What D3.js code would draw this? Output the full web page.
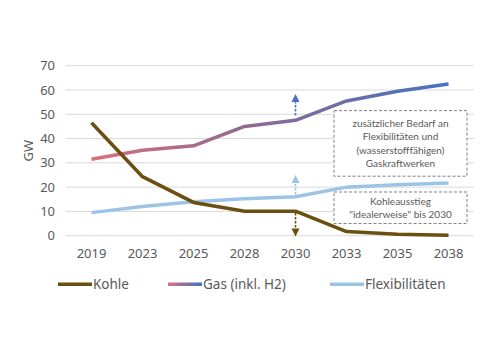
<!DOCTYPE html>
<html>
<head>
<meta charset="utf-8">
<script src="https://cdn.jsdelivr.net/npm/d3@7"></script>
<style>
  body { margin: 0; background: #fff; }
  svg { display: block; font-family: "Noto Sans", sans-serif; }
</style>
</head>
<body>
<svg width="500" height="353"></svg>
<script>
const years = ["2019", "2023", "2025", "2028", "2030", "2033", "2035", "2038"];
const kohle = [46.5, 24.3, 13.7, 10.1, 10.1, 1.7, 0.6, 0.2];
const gas = [31.5, 35.2, 37, 45, 47.5, 55.5, 59.5, 62.5];
const flex = [9.5, 12, 14, 15.2, 16, 20, 21, 21.7];
const yTicks = [0, 10, 20, 30, 40, 50, 60, 70];

// dashed arrows at 2030: [from, to]
const arrowYear = "2030";
const arrows = [
    { from: 49.5, to: 58.3, color: "#4472c4" },
    { from: 17, to: 25, color: "#9dc3e6" },
    { from: 9.3, to: -0.3, color: "#6b4f10" }
];

const notes = [
    { lines: ["zusätzlicher Bedarf an", "Flexibilitäten und", "(wasserstofffähigen)", "Gaskraftwerken"], top: 51.5, bottom: 24.5 },
    { lines: ["Kohleausstieg", "\"idealerweise\" bis 2030"], top: 18, bottom: 5 }
];

const svg = d3.select("svg");
const area = { left: 66, right: 474, top: 65.7, bottom: 235.7 };

const scX = d3.scaleBand().domain(years).range([area.left, area.right]);
const scY = d3.scaleLinear().domain([0, 70]).range([area.bottom, area.top]);
const cx = d => scX(d) + scX.bandwidth() / 2;

const defs = svg.append("defs");
const grad = defs.append("linearGradient")
    .attr("id", "gasGrad")
    .attr("gradientUnits", "userSpaceOnUse")
    .attr("x1", cx(years[0])).attr("x2", cx(years[years.length - 1]))
    .attr("y1", 0).attr("y2", 0);
grad.append("stop").attr("offset", "0%").attr("stop-color", "#d9707c");
grad.append("stop").attr("offset", "40%").attr("stop-color", "#96688f");
grad.append("stop").attr("offset", "100%").attr("stop-color", "#4472c4");

const legGrad = defs.append("linearGradient").attr("id", "gasLegGrad");
legGrad.append("stop").attr("offset", "0%").attr("stop-color", "#d9707c");
legGrad.append("stop").attr("offset", "100%").attr("stop-color", "#4472c4");

// grid
svg.append("g")
    .selectAll("line")
    .data(yTicks)
    .enter()
    .append("line")
    .attr("x1", area.left)
    .attr("x2", area.right)
    .attr("y1", d => scY(d))
    .attr("y2", d => scY(d))
    .attr("stroke", "#d9d9d9")
    .attr("stroke-width", 1);

// y axis labels
svg.append("g")
    .selectAll("text")
    .data(yTicks)
    .enter()
    .append("text")
    .attr("x", 55)
    .attr("y", d => scY(d))
    .attr("dy", "0.35em")
    .attr("text-anchor", "end")
    .attr("font-size", 13)
    .attr("fill", "#595959")
    .text(d => d);

// x axis labels
svg.append("g")
    .selectAll("text")
    .data(years)
    .enter()
    .append("text")
    .attr("x", d => cx(d))
    .attr("y", 258)
    .attr("text-anchor", "middle")
    .attr("font-size", 13)
    .attr("fill", "#595959")
    .text(d => d);

svg.append("text")
    .attr("transform", `translate(33, ${scY(35)}) rotate(-90)`)
    .attr("text-anchor", "middle")
    .attr("font-size", 13)
    .attr("fill", "#595959")
    .text("GW");

const line = d3.line()
    .x((d, i) => cx(years[i]))
    .y(d => scY(d));

const series = [
    { values: flex, color: "#9dc3e6" },
    { values: gas, color: "url(#gasGrad)" },
    { values: kohle, color: "#6b4f10" }
];
series.forEach(s => {
    svg.append("path")
        .datum(s.values)
        .attr("fill", "none")
        .attr("stroke", s.color)
        .attr("stroke-width", 3.5)
        .attr("stroke-linejoin", "round")
        .attr("d", line);
});

// arrows
arrows.forEach(a => {
    const x = cx(arrowYear);
    const y0 = scY(a.from);
    const y1 = scY(a.to);
    const dir = y1 < y0 ? 1 : -1;
    const head = 8;
    svg.append("line")
        .attr("x1", x).attr("x2", x)
        .attr("y1", y0).attr("y2", y1 + dir * head)
        .attr("stroke", a.color)
        .attr("stroke-width", 1.6)
        .attr("stroke-dasharray", "2.5,1.5");
    svg.append("path")
        .attr("d", `M${x},${y1} L${x - 4},${y1 + dir * head} L${x + 4},${y1 + dir * head} Z`)
        .attr("fill", a.color);
});

// annotation boxes
notes.forEach(n => {
    const x0 = 334, x1 = 467;
    const yT = scY(n.top), yB = scY(n.bottom);
    svg.append("rect")
        .attr("x", x0).attr("y", yT)
        .attr("width", x1 - x0).attr("height", yB - yT)
        .attr("fill", "#fff")
        .attr("stroke", "#7f7f7f")
        .attr("stroke-width", 1)
        .attr("stroke-dasharray", "3,2");
    const lh = 13.2;
    const mid = (yT + yB) / 2;
    n.lines.forEach((t, i) => {
        svg.append("text")
            .attr("x", (x0 + x1) / 2)
            .attr("y", mid + (i - (n.lines.length - 1) / 2) * lh)
            .attr("dy", "0.35em")
            .attr("text-anchor", "middle")
            .attr("font-family", "Lato, sans-serif")
            .attr("font-size", 10)
            .attr("fill", "#595959")
            .text(t);
    });
});

// legend
const legend = [
    { name: "Kohle", color: "#6b4f10", x: 58 },
    { name: "Gas (inkl. H2)", color: "url(#gasLegGrad)", x: 168 },
    { name: "Flexibilitäten", color: "#9dc3e6", x: 330 }
];
const lg = svg.append("g");
legend.forEach(l => {
    lg.append("rect")
        .attr("x", l.x).attr("y", 282.5)
        .attr("width", 34).attr("height", 3.5)
        .attr("fill", l.color);
    lg.append("text")
        .attr("x", l.x + 35)
        .attr("y", 284)
        .attr("dy", "0.35em")
        .attr("font-size", 13.5)
        .attr("fill", "#595959")
        .text(l.name);
});
</script>
</body>
</html>
